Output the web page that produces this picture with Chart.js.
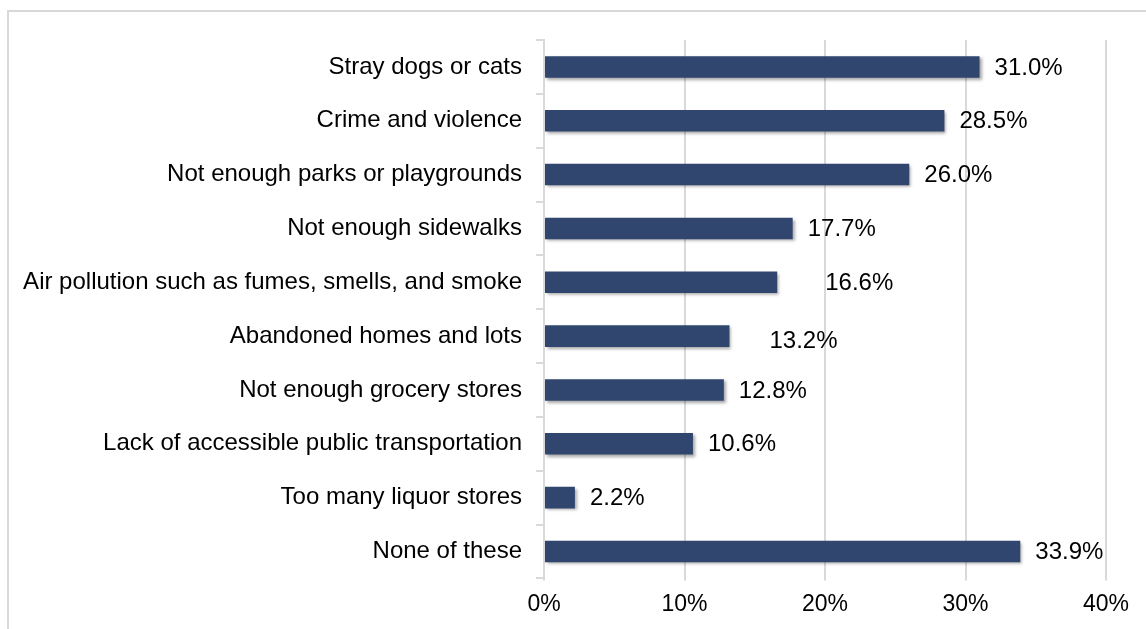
<!DOCTYPE html>
<html>
<head>
<meta charset="utf-8">
<script src="https://cdn.jsdelivr.net/npm/chart.js@4"></script>
<style>
  html, body { margin: 0; padding: 0; background: #fff; }
  #wrap { width: 1146px; height: 629px; }
</style>
</head>
<body>
<div id="wrap"><canvas id="chart" width="1146" height="629"></canvas></div>
<script>
// chart data
var categories = [
  'Stray dogs or cats',
  'Crime and violence',
  'Not enough parks or playgrounds',
  'Not enough sidewalks',
  'Air pollution such as fumes, smells, and smoke',
  'Abandoned homes and lots',
  'Not enough grocery stores',
  'Lack of accessible public transportation',
  'Too many liquor stores',
  'None of these'
];
var percents = [31.0, 28.5, 26.0, 17.7, 16.6, 13.2, 12.8, 10.6, 2.2, 33.9];
var xTicks = [0, 10, 20, 30, 40];

// small nudges for the data labels (the original has a few labels pushed out)
var labelNudgeX = [0, 0, 0, 0, 33, 25, 0, 0, 0, 0];
var labelNudgeY = [0, 0, 0, 0, 0, 4, 0, 0, 0, 0];

var FONT = "'Liberation Sans', Arial, sans-serif";
var LEFT = 544;

var framePlugin = {
  id: 'frame',
  beforeDraw: function(chart) {
    var ctx = chart.ctx;
    ctx.save();
    ctx.fillStyle = '#fff';
    ctx.fillRect(0, 0, chart.width, chart.height);
    ctx.strokeStyle = '#d9d9d9';
    ctx.lineWidth = 2;
    ctx.strokeRect(8, 11, chart.width + 20, chart.height + 20);
    ctx.restore();
  }
};

var shadowPlugin = {
  id: 'barShadow',
  beforeDatasetsDraw: function(chart) {
    var ctx = chart.ctx;
    ctx.save();
    ctx.shadowColor = 'rgba(0,0,0,0.35)';
    ctx.shadowBlur = 3;
    ctx.shadowOffsetX = 2;
    ctx.shadowOffsetY = 2;
  },
  afterDatasetsDraw: function(chart) {
    chart.ctx.restore();
  }
};

var valueLabels = {
  id: 'valueLabels',
  afterDatasetsDraw: function(chart) {
    var ctx = chart.ctx;
    var meta = chart.getDatasetMeta(0);
    ctx.save();
    ctx.font = '24px ' + FONT;
    ctx.fillStyle = '#000';
    ctx.textAlign = 'left';
    ctx.textBaseline = 'middle';
    meta.data.forEach(function(bar, i) {
      ctx.fillText(percents[i].toFixed(1) + '%', bar.x + 15 + labelNudgeX[i], bar.y + 1 + labelNudgeY[i]);
    });
    ctx.restore();
  }
};

var ctx = document.getElementById('chart').getContext('2d');
new Chart(ctx, {
  type: 'bar',
  data: {
    labels: categories,
    datasets: [{
      data: percents,
      backgroundColor: '#31466f',
      borderWidth: 0,
      categoryPercentage: 1,
      barPercentage: 0.4
    }]
  },
  options: {
    indexAxis: 'y',
    responsive: false,
    animation: false,
    layout: { padding: { left: 0, right: 40, top: 40, bottom: 1 } },
    plugins: {
      legend: { display: false },
      tooltip: { enabled: false }
    },
    scales: {
      x: {
        min: 0,
        max: 40,
        afterBuildTicks: function(axis) {
          axis.ticks = xTicks.map(function(v) { return { value: v }; });
        },
        ticks: {
          color: '#000',
          font: { family: FONT, size: 23 },
          padding: 10,
          callback: function(v) { return v + '%'; }
        },
        grid: { color: '#d9d9d9', lineWidth: 2, tickLength: 2 },
        border: { display: false }
      },
      y: {
        afterFit: function(axis) { axis.width = LEFT; },
        ticks: {
          color: '#000',
          font: { family: FONT, size: 24 },
          padding: 14
        },
        grid: { drawOnChartArea: false, color: '#d9d9d9', lineWidth: 2, tickLength: 8 },
        border: { display: true, color: '#d9d9d9', width: 2 }
      }
    }
  },
  plugins: [framePlugin, shadowPlugin, valueLabels]
});
</script>
</body>
</html>
